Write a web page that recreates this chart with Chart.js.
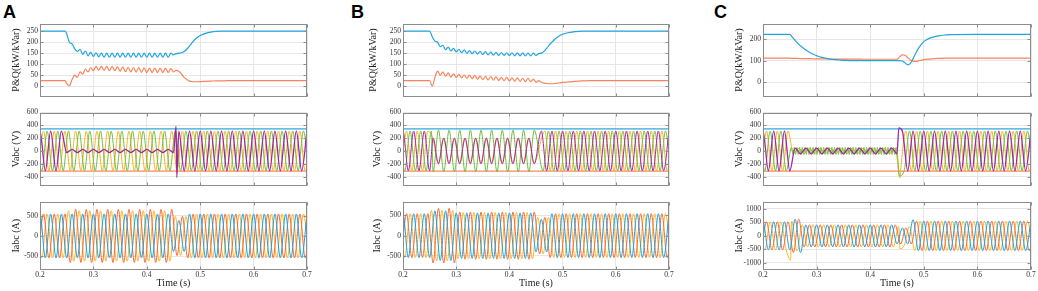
<!DOCTYPE html>
<html>
<head>
<meta charset="utf-8">
<script src="https://cdn.jsdelivr.net/npm/chart.js@4.4.0/dist/chart.umd.min.js"></script>
<style>
body { margin: 0; background: #fff; }
#wrap { position: relative; width: 1038px; height: 291px; overflow: hidden; background: #fff; }
#wrap canvas { position: absolute; }
.tag { position: absolute; font: bold 18px "Liberation Sans", Arial, sans-serif; line-height: 18px; color: #000; }
</style>
</head>
<body>
<div id="wrap">
  <div class="tag" style="left:3px;top:3px">A</div>
  <div class="tag" style="left:351px;top:3px">B</div>
  <div class="tag" style="left:714px;top:3px">C</div>
</div>
<script>
// ---- axis ticks ----
const timeTicks = [0.2, 0.3, 0.4, 0.5, 0.6, 0.7];
const pqTicks = [0, 50, 100, 150, 200, 250];
const pqTicksC = [0, 100, 200];
const vTicks = [-400, -200, 0, 200, 400, 600];
const iTicks = [-500, 0, 500];
const iTicksC = [-1000, -500, 0, 500, 1000];

// ---- P & Q (kW / kVar), sampled at pqTime ----
const pqTime = [0.2, 0.247, 0.25, 0.255, 0.26, 0.265, 0.27, 0.275, 0.28, 0.285, 0.29, 0.295,
  0.3, 0.305, 0.31, 0.315, 0.32, 0.325, 0.33, 0.335, 0.34, 0.345, 0.35, 0.355, 0.36, 0.365,
  0.37, 0.375, 0.38, 0.385, 0.39, 0.395, 0.4, 0.405, 0.41, 0.415, 0.42, 0.425, 0.43, 0.435,
  0.44, 0.445, 0.45, 0.455, 0.46, 0.465, 0.47, 0.475, 0.48, 0.485, 0.49, 0.495, 0.5,
  0.51, 0.52, 0.53, 0.54, 0.55, 0.6, 0.65, 0.7];

const pA_P = [250, 250, 238, 200, 192, 170, 158, 168, 145, 160, 138, 155,
  135, 152, 133, 150, 132,
  150, 132, 150, 132, 150, 132, 150, 132, 150, 132, 150, 132, 150, 132, 150, 132, 150, 132, 150, 132, 150, 132, 150, 132, 150,
  142, 148, 150, 152, 158, 168, 183, 198, 212, 222, 230,
  240, 246, 249, 250, 250, 250, 250, 250];
const pA_Q = [25, 25, 12, 2, 30, 50, 40, 65, 55, 78, 65, 85,
  70, 90, 72, 90, 72,
  90, 70, 90, 70, 88, 68, 88, 66, 86, 65, 85, 64, 84, 63, 83, 62, 82, 62, 82, 62, 82, 62, 82, 62, 80,
  65, 72, 68, 55, 40, 30, 23, 21, 20, 20, 21,
  22, 23, 24, 24, 25, 25, 25, 25];

const pB_P = [250, 250, 250, 225, 205, 200, 180, 186, 166, 178, 160, 172,
  156, 168, 152, 165, 150,
  162, 148, 160, 146, 158, 144, 157, 142, 155, 141, 154, 140, 153, 140, 152, 139, 152, 138, 151, 138, 151, 138, 150, 138, 150,
  140, 148, 150, 158, 172, 188, 200, 212, 222, 230, 236,
  243, 247, 249, 250, 250, 250, 250, 250];
const pB_Q = [25, 25, 25, 0, 40, 68, 50, 65, 45, 60, 42, 56,
  40, 54, 38, 52, 36,
  50, 34, 48, 32, 46, 30, 45, 28, 44, 27, 42, 26, 40, 25, 40, 24, 38, 22, 38, 22, 36, 20, 36, 20, 32,
  18, 25, 18, 14, 12, 11, 11, 12, 14, 15, 17,
  19, 21, 23, 24, 25, 25, 25, 25];

const pC_P = [224, 224, 224, 210, 196, 182, 170, 160, 150, 142, 135, 129,
  124, 119, 116, 113, 110,
  108, 106, 105, 104, 103, 102, 102, 101, 101, 101, 101, 101, 101, 101, 101, 101, 101, 101, 101, 101, 101, 101, 101, 101, 101,
  101, 101, 99, 90, 81, 88, 110, 135, 158, 176, 190,
  205, 213, 218, 221, 223, 224, 224, 224];
const pC_Q = [112, 112, 112, 111, 111, 111, 110, 110, 110, 110, 110, 109,
  109, 109, 109, 109, 109,
  108, 108, 108, 108, 108, 108, 108, 108, 108, 108, 108, 108, 107, 107, 107, 107, 107, 107, 107, 107, 107, 107, 107, 107, 107,
  107, 118, 128, 126, 115, 104, 98, 97, 99, 102, 105,
  108, 110, 111, 112, 112, 112, 112, 112];

// ---- Vabc / Iabc: each phase as runs [from, to, peak value, phase deg, (freq Hz)] ----
const vLimits = [345, -315];

const vA_a = [[0.19, 0.25, 310, 0], [0.25, 0.454, 25, 0], [0.457, 0.71, 310, 0]];
const vA_b = [[0.19, 0.71, 310, -120]];
const vA_c = [[0.19, 0.71, 310, 120]];
const vA_aSpikes = [[0.4548, 385], [0.4562, -415]];

const vB_a = [[0.19, 0.255, 310, 0], [0.255, 0.456, 200, 60], [0.458, 0.71, 310, 0]];
const vB_b = [[0.19, 0.255, 310, -120], [0.255, 0.456, 195, 70], [0.458, 0.71, 310, -120]];
const vB_c = [[0.19, 0.255, 310, 120], [0.255, 0.456, 325, 240], [0.458, 0.71, 310, 120]];

const vC_a = [[0.19, 0.252, 310, 0], [0.252, 0.452, 45, 0], [0.456, 0.71, 310, 0]];
const vC_b = [[0.19, 0.252, 310, -120], [0.252, 0.452, 42, -120], [0.456, 0.71, 310, -120]];
const vC_c = [[0.19, 0.252, 310, 120], [0.252, 0.452, 55, 120, 200], [0.456, 0.71, 310, 120]];
const vC_aSpikes = [[0.4535, 360]];
const vC_bSpikes = [[0.4555, -420]];
const vC_cSpikes = [[0.4545, -390]];

const iA_a = [[0.19, 0.45, 540, 0], [0.45, 0.475, 380, 0], [0.475, 0.71, 540, 0]];
const iA_b = [[0.19, 0.25, 540, -120], [0.25, 0.45, 650, -120], [0.45, 0.475, 480, -120], [0.475, 0.71, 540, -120]];
const iA_c = [[0.19, 0.25, 540, 120], [0.25, 0.45, 620, 120], [0.45, 0.475, 480, 120], [0.475, 0.71, 540, 120]];

const iB_a = [[0.19, 0.26, 540, 0], [0.26, 0.3, 610, 0], [0.3, 0.45, 560, 0], [0.45, 0.475, 400, 0], [0.475, 0.71, 540, 0]];
const iB_b = [[0.19, 0.25, 540, -120], [0.25, 0.3, 670, -120], [0.3, 0.45, 580, -120], [0.45, 0.475, 450, -120], [0.475, 0.71, 540, -120]];
const iB_c = [[0.19, 0.25, 540, 120], [0.25, 0.3, 620, 120], [0.3, 0.45, 570, 120], [0.45, 0.475, 450, 120], [0.475, 0.71, 540, 120]];

const iC_a = [[0.19, 0.255, 520, 0], [0.255, 0.28, 620, 0], [0.28, 0.45, 410, 0], [0.45, 0.478, 300, 0], [0.478, 0.49, 600, 0], [0.49, 0.71, 550, 0]];
const iC_b = [[0.19, 0.25, 520, -120], [0.25, 0.27, 620, -120], [0.27, 0.45, 410, -120], [0.45, 0.478, 300, -120], [0.478, 0.71, 550, -120]];
const iC_c = [[0.19, 0.25, 520, 120], [0.25, 0.27, 550, 120], [0.27, 0.45, 410, 120], [0.45, 0.478, 350, 120], [0.478, 0.71, 550, 120]];
const iC_cSpikes = [[0.2515, -900], [0.4555, -480]];

// ---- colours ----
const colP = '#22a5de', colQ = '#f7845a';
const colVa = '#a0279f', colVb = '#f9b02a', colVc = '#72bd3c', colHi = '#2ea8df', colLo = '#f7875a';
const colIa = '#1da1dd', colIb = '#f6683a', colIc = '#fbb829';

// peaks and troughs of each run; the library's monotone curve joins them
function wave(runs, spikes) {
  const pts = [];
  runs.forEach(r => {
    const t0 = r[0], t1 = r[1], amp = r[2], ph = r[3], f = r[4] || 50;
    let k = Math.ceil((360 * f * t0 + ph) / 180 - 1e-9);
    let t = (180 * k - ph) / (360 * f);
    while (t < t1) {
      pts.push({ x: t, y: k % 2 === 0 ? amp : -amp });
      k++;
      t = (180 * k - ph) / (360 * f);
    }
  });
  (spikes || []).forEach(p => pts.push({ x: p[0], y: p[1] }));
  pts.sort((a, b) => a.x - b.x);
  return pts;
}
function series(ts, vs) { return ts.map((t, i) => ({ x: t, y: vs[i] })); }
function flat(v) { return [{ x: 0.2, y: v }, { x: 0.7, y: v }]; }
function ds(data, color, w) {
  return { data: data, borderColor: color, borderWidth: w || 1, pointRadius: 0,
           cubicInterpolationMode: 'monotone', fill: false };
}

Chart.defaults.font.family = "'Liberation Serif', 'Times New Roman', serif";
Chart.defaults.color = '#333';

const boxPlugin = {
  id: 'box',
  afterDraw(chart) {
    const a = chart.chartArea, c = chart.ctx;
    const l = Math.round(a.left) + 0.5, t = Math.round(a.top) + 0.5;
    const r = Math.round(a.right) - 0.5, b = Math.round(a.bottom) - 0.5;
    c.save();
    c.strokeStyle = '#8c8c8c';
    c.lineWidth = 1;
    c.strokeRect(l, t, r - l, b - t);
    c.beginPath();
    chart.scales.x.ticks.forEach(tk => {
      const x = Math.round(chart.scales.x.getPixelForValue(tk.value)) + 0.5;
      c.moveTo(x, t); c.lineTo(x, t + 3);
      c.moveTo(x, b); c.lineTo(x, b - 3);
    });
    chart.scales.y.ticks.forEach(tk => {
      const y = Math.round(chart.scales.y.getPixelForValue(tk.value)) + 0.5;
      c.moveTo(l, y); c.lineTo(l + 3, y);
      c.moveTo(r, y); c.lineTo(r - 3, y);
    });
    c.stroke();
    c.restore();
  }
};

const cols = [{ left: 40, w: 267 }, { left: 403, w: 266 }, { left: 763, w: 268 }];
const rows = [{ top: 23, h: 74 }, { top: 112, h: 74 }, { top: 201, h: 69 }];
const wrap = document.getElementById('wrap');

function panel(ci, ri, yMin, yMax, yTicks, yTitle, titlePad, datasets) {
  const col = cols[ci], row = rows[ri];
  const bottom = ri === 2;
  const cw = 40 + col.w + 6, ch = 6 + row.h + (bottom ? 22 : 6);
  const cv = document.createElement('canvas');
  cv.width = cw; cv.height = ch;
  cv.style.left = (col.left - 40) + 'px';
  cv.style.top = (row.top - 6) + 'px';
  cv.style.width = cw + 'px'; cv.style.height = ch + 'px';
  wrap.appendChild(cv);
  new Chart(cv, {
    type: 'line',
    data: { datasets: datasets },
    options: {
      responsive: false,
      animation: false,
      normalized: true,
      layout: { padding: { left: 0, top: 6, right: 6, bottom: bottom ? 0 : 6 } },
      plugins: { legend: { display: false }, tooltip: { enabled: false } },
      scales: {
        x: {
          type: 'linear', min: 0.2, max: 0.7,
          afterBuildTicks: s => { s.ticks = timeTicks.map(v => ({ value: v })); },
          afterFit: s => { s.height = bottom ? 22 : 0; },
          grid: { color: '#e6e6e6', drawTicks: false },
          border: { display: false },
          ticks: { display: bottom, padding: 1, font: { size: 7.5 }, maxRotation: 0,
                   callback: v => v.toFixed(1) },
          title: { display: bottom, text: 'Time (s)', font: { size: 10 }, color: '#222',
                   padding: { top: 0, bottom: 3 } }
        },
        y: {
          min: yMin, max: yMax,
          afterBuildTicks: s => { s.ticks = yTicks.map(v => ({ value: v })); },
          afterFit: s => { s.width = 40; },
          grid: { color: '#e6e6e6', drawTicks: false },
          border: { display: false },
          ticks: { padding: 2, font: { size: 7.5 }, callback: v => String(v) },
          title: { display: true, text: yTitle, font: { size: 10 }, color: '#222',
                   padding: { top: titlePad, bottom: 0 } }
        }
      }
    },
    plugins: [boxPlugin]
  });
}

// column A
panel(0, 0, -47, 285, pqTicks, 'P&Q(kW/kVar)', 10, [
  ds(series(pqTime, pA_P), colP, 1.2), ds(series(pqTime, pA_Q), colQ, 1.2)]);
panel(0, 1, -540, 600, vTicks, 'Vabc (V)', 10, [
  ds(wave(vA_a, vA_aSpikes), colVa, 1.3), ds(wave(vA_c), colVc), ds(wave(vA_b), colVb),
  ds(flat(vLimits[0]), colHi, 1.3), ds(flat(vLimits[1]), colLo, 1.3)]);
panel(0, 2, -835, 845, iTicks, 'Iabc (A)', 10, [
  ds(wave(iA_a), colIa), ds(wave(iA_b), colIb), ds(wave(iA_c), colIc)]);

// column B
panel(1, 0, -47, 285, pqTicks, 'P&Q(kW/kVar)', 4, [
  ds(series(pqTime, pB_P), colP, 1.2), ds(series(pqTime, pB_Q), colQ, 1.2)]);
panel(1, 1, -540, 600, vTicks, 'Vabc (V)', 8, [
  ds(wave(vB_a), colVa), ds(wave(vB_c), colVc), ds(wave(vB_b), colVb),
  ds(flat(vLimits[0]), colHi, 1.3), ds(flat(vLimits[1]), colLo, 1.3)]);
panel(1, 2, -845, 840, iTicks, 'Iabc (A)', 8, [
  ds(wave(iB_a), colIa), ds(wave(iB_b), colIb), ds(wave(iB_c), colIc)]);

// column C
panel(2, 0, -68, 275, pqTicksC, 'P&Q(kW/kVar)', 10, [
  ds(series(pqTime, pC_P), colP, 1.2), ds(series(pqTime, pC_Q), colQ, 1.2)]);
panel(2, 1, -540, 600, vTicks, 'Vabc (V)', 10, [
  ds(wave(vC_a, vC_aSpikes), colVa, 1.3), ds(wave(vC_c, vC_cSpikes), colVc), ds(wave(vC_b, vC_bSpikes), colVb),
  ds(flat(vLimits[0]), colHi, 1.3), ds(flat(vLimits[1]), colLo, 1.3)]);
panel(2, 2, -1265, 1275, iTicksC, 'Iabc (A)', 10, [
  ds(wave(iC_a), colIa), ds(wave(iC_b), colIb), ds(wave(iC_c, iC_cSpikes), colIc)]);
</script>
</body>
</html>
